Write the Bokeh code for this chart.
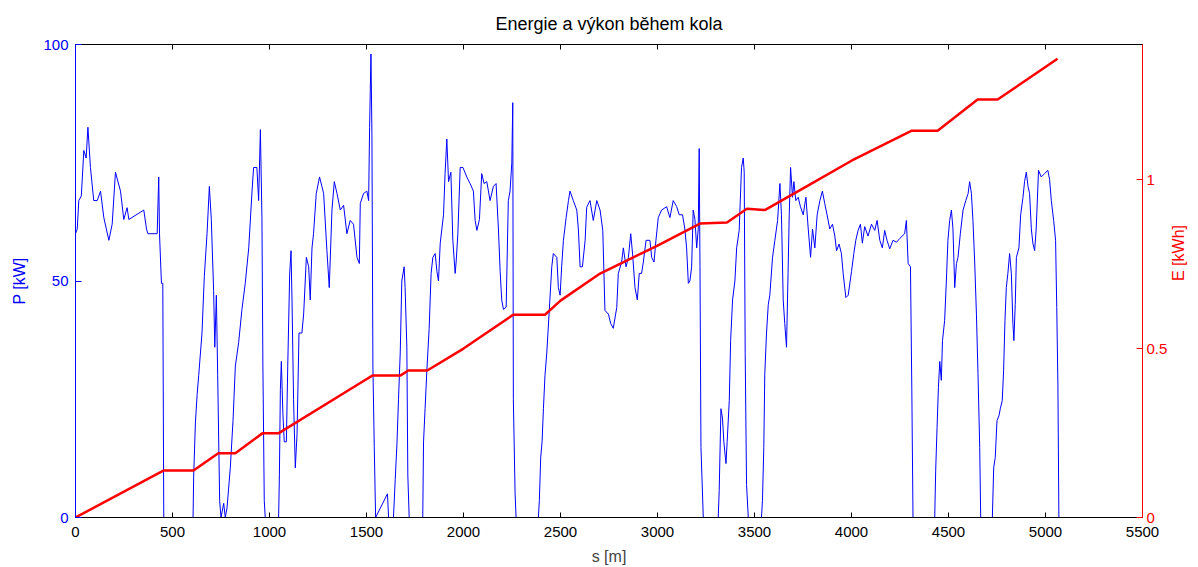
import math
from bokeh.plotting import figure
from bokeh.models import Range1d, LinearAxis, FixedTicker
from bokeh.embed import file_html
from bokeh.resources import INLINE

# ---------------- data ----------------
distance_m = [
    0, 9, 17, 30, 43, 55, 64, 77, 94, 112, 129, 146, 172, 189, 206, 232, 249, 266, 275, 352, 366, 373, 421, 429, 433, 443, 450, 455,
    606, 609, 618, 627, 635, 652, 664, 678, 690, 700, 712, 718, 726, 733, 743, 750, 764, 772, 781, 798, 812, 824, 841, 858, 875, 893,
    910, 918, 935, 944, 953, 961, 966, 973, 978, 1047, 1051, 1056, 1061, 1069, 1076, 1087, 1094, 1104, 1111, 1116, 1124, 1133, 1142,
    1152, 1167, 1176, 1190, 1202, 1210, 1219, 1227, 1241, 1258, 1270, 1279, 1296, 1308, 1322, 1334, 1348, 1365, 1382, 1399, 1416,
    1433, 1451, 1463, 1468,
    1485, 1502, 1511, 1516, 1523, 1528, 1533, 1540, 1547, 1608, 1614, 1639, 1648, 1657, 1665, 1674, 1682, 1694, 1699, 1708, 1713,
    1720, 1790, 1794, 1802, 1811, 1823, 1833, 1842, 1854, 1863, 1871, 1880, 1897, 1905, 1914, 1923, 1935, 1945, 1957, 1962, 1971,
    1983, 1997, 2017, 2034, 2051, 2060, 2069, 2082, 2094, 2106, 2120, 2137, 2154, 2168, 2180, 2189, 2197, 2206, 2220, 2231, 2240,
    2249, 2254, 2257, 2266, 2271, 2386, 2391, 2398, 2405, 2412, 2420, 2429, 2441, 2455, 2463, 2481, 2489, 2498, 2506, 2515, 2529,
    2541, 2549, 2566, 2584, 2592, 2601, 2613, 2627, 2635,
    2652, 2669, 2687, 2704, 2718, 2729, 2747, 2759, 2772, 2790, 2798, 2815, 2824, 2838, 2850, 2862, 2872, 2884, 2896, 2906, 2918,
    2927, 2941, 2961, 2970, 2982, 2992, 3004, 3021, 3047, 3064, 3081, 3099, 3112, 3129, 3141, 3150, 3159, 3167, 3176, 3184, 3193,
    3202, 3210, 3215, 3219, 3224, 3236, 3313, 3318, 3327, 3335, 3342, 3353, 3359, 3370, 3377, 3387, 3399, 3408, 3421, 3433, 3442,
    3447, 3452, 3459, 3468, 3536, 3541, 3548, 3553, 3562, 3571, 3579, 3593, 3605, 3619, 3631, 3639, 3648, 3656, 3665, 3673, 3679,
    3686, 3696, 3703, 3713, 3725, 3737, 3751, 3765, 3777, 3789, 3799, 3811, 3823, 3837, 3850, 3862, 3874, 3888, 3902, 3914, 3923,
    3936, 3948, 3957, 3971, 3983,
    4000, 4012, 4022, 4034, 4046, 4056, 4068, 4085, 4103, 4120, 4132, 4146, 4159, 4171, 4183, 4197, 4214, 4232, 4249, 4274, 4283,
    4292, 4304, 4311, 4317, 4429, 4434, 4441, 4448, 4455, 4463, 4469, 4480, 4489, 4497, 4506, 4515, 4523, 4532, 4541, 4549, 4561,
    4575, 4589, 4601, 4609, 4618, 4626, 4635, 4644, 4652, 4661, 4666, 4726, 4733, 4741, 4750, 4760, 4767, 4777, 4784, 4791, 4798,
    4806, 4815, 4824, 4832, 4837, 4844, 4850, 4863, 4872, 4884, 4892, 4901, 4910, 4918, 4927, 4935, 4944, 4952, 4964, 4978, 4995,
    5012, 5021, 5030, 5042, 5052, 5058, 5064, 5069,
]
power_kw = [
    60, 61, 67, 68, 77.6, 76, 82.5, 74, 67, 67, 69, 63.4, 58.6, 62, 73, 69, 63, 65.5, 63, 65, 61, 60, 60, 72, 60, 49.5, 49.5, 0,
    0, 8.5, 20, 26, 30, 39, 51, 60, 70, 63, 48, 36, 47, 30, 3.6, 0, 3, 0, 2, 10.5, 20.5, 32, 37, 44, 49.5, 57,
    69, 74, 74, 67, 82, 63.5, 32, 3.6, 0, 0, 9, 27, 33, 22, 16, 16, 32, 51.5, 56.4, 46, 25, 10.5, 17.7,
    39, 39, 43, 55, 53, 46, 57, 60, 68.5, 72, 70, 68.5, 56.4, 48.6, 65, 71, 68.5, 65, 66, 60, 62.8,
    62, 55, 53.7, 66.4,
    68.5, 69, 67, 82.5, 98, 81, 32, 15, 0, 5, 0, 0, 8, 15.6, 25, 35, 50, 53, 48.6, 36, 9,
    0, 0, 16, 23, 31, 40, 51.6, 55, 55.8, 52, 50, 58, 64, 72.7, 80, 71, 73, 58.6, 51.6, 54, 60,
    74, 74, 72, 70.6, 69, 62.8, 60.7, 63, 72.7, 70.6, 71, 67, 70, 70.6, 61, 52, 46, 44, 44.5, 67, 69,
    75, 87.7, 25, 5, 0, 0, 3.6, 12.7, 16, 23, 30, 34.6, 43, 53, 55.8, 55, 48.6, 47, 53, 58.6, 63.4,
    67, 69, 67, 65, 61, 53, 53, 58.6, 65.6,
    67, 62.8, 67, 65, 60.7, 43.8, 43, 41, 40, 44.4, 51.6, 54, 57, 53, 55, 60, 55.5, 48.6, 46, 51.6, 51.6,
    54, 58.6, 58.6, 55, 54, 58.6, 63.4, 65, 65.7, 63.4, 67, 65.7, 64, 64, 61, 57, 49.5, 50, 53, 65, 63,
    57, 61, 78, 53, 14.8, 0, 0, 5.7, 23, 21, 16, 11.4, 16, 24.7, 37.4, 46, 50, 57, 60.7, 74, 76,
    73, 34.6, 7, 0, 0, 3.6, 14.8, 30.4, 39, 45, 47, 55, 58.6, 62.8, 70.6, 64, 46, 41, 36, 51.6, 64,
    74, 67.7, 71, 67, 67.7, 65.7, 64, 67.7, 61, 55, 61, 57, 64, 67, 69, 66.4, 64, 61, 62, 59.5, 56.4,
    57.8, 55.8, 51.6, 46.5, 47,
    52, 55.8, 58.6, 60.7, 62, 58, 61.5, 59.5, 62, 60.7, 62.8, 58.6, 57, 60.7, 58.6, 56.8, 58.6, 58.2, 59, 60, 62.8,
    53.7, 53, 26.8, 0, 0, 10, 19, 27.5, 33, 29, 37.4, 41.6, 50, 58.6, 62.8, 65, 61, 48.6, 53.7, 55, 60,
    65, 67, 68.5, 71, 68.5, 62.8, 54, 43, 30.4, 14.8, 0, 0, 10.5, 12.7, 20.5, 21.5, 23, 24.7, 31, 41.6, 48.6,
    51.6, 55.8, 51.6, 41, 37.4, 45, 55, 57, 64, 67.7, 71, 73, 70, 68.5, 61, 58, 56.4, 61, 73.4, 72, 72.7,
    73.4, 71.5, 67, 62.8, 58.6, 44.4, 28, 0,
]

energy_distance_m = [0, 453, 608, 736, 824, 963, 1046, 1468, 1530, 1674, 1715, 1813, 2000, 2256, 2420, 2500, 2704,
                     3000, 3219, 3358, 3461, 3553, 3780, 4000, 4311, 4444, 4650, 4753, 5062]
energy_kwh = [0.0, 0.139, 0.139, 0.19, 0.19, 0.249, 0.249, 0.398, 0.42, 0.42, 0.435, 0.435, 0.50, 0.60, 0.60, 0.642, 0.722,
              0.805, 0.87, 0.873, 0.914, 0.91, 0.984, 1.056, 1.145, 1.145, 1.237, 1.237, 1.358]

x_ticks = [0, 500, 1000, 1500, 2000, 2500, 3000, 3500, 4000, 4500, 5000, 5500]
p_ticks = [0, 50, 100]
e_ticks = [0, 0.5, 1]

FONT = "Liberation Sans"
BLUE = "#0000ff"
RED = "#ff0000"

p = figure(width=1198, height=567, x_range=Range1d(0, 5500), y_range=Range1d(0, 100),
           output_backend="svg", toolbar_location=None,
           min_border_left=75, min_border_right=55, min_border_top=44, min_border_bottom=50)

p.title.text = "Energie a výkon během kola"
p.title.align = "center"
p.title.text_font = FONT
p.title.text_font_size = "18px"
p.title.text_font_style = "normal"
p.title.text_color = "black"
p.title.standoff = 22

p.xgrid.visible = False
p.ygrid.visible = False
p.outline_line_color = "black"
p.outline_line_width = 1

p.extra_y_ranges = {"E": Range1d(0, 1.4)}

# x axis
xa = p.xaxis[0]
xa.ticker = FixedTicker(ticks=x_ticks)
xa.axis_label = "s [m]"
xa.major_tick_in = 5
xa.major_tick_out = 0
xa.minor_tick_line_color = None
xa.axis_line_color = "black"
xa.major_tick_line_color = "black"
xa.major_label_text_font = FONT
xa.major_label_text_font_size = "15px"
xa.major_label_text_color = "black"
xa.axis_label_text_font = FONT
xa.axis_label_text_font_size = "16px"
xa.axis_label_text_font_style = "normal"
xa.axis_label_standoff = 8
xa.major_label_standoff = 9

# left axis
ya = p.yaxis[0]
ya.ticker = FixedTicker(ticks=p_ticks)
ya.axis_label = "P [kW]"
ya.major_tick_in = 6
ya.major_tick_out = 0
ya.minor_tick_line_color = None
ya.axis_line_color = BLUE
ya.major_tick_line_color = BLUE
ya.major_label_text_color = BLUE
ya.major_label_text_font = FONT
ya.major_label_text_font_size = "15px"
ya.axis_label_text_color = BLUE
ya.axis_label_text_font = FONT
ya.axis_label_text_font_size = "16px"
ya.axis_label_text_font_style = "normal"
ya.major_label_standoff = 7
ya.axis_label_standoff = 12

# right axis
ra = LinearAxis(y_range_name="E", ticker=FixedTicker(ticks=e_ticks), axis_label="E [kWh]")
ra.major_tick_in = 6
ra.major_tick_out = 0
ra.minor_tick_line_color = None
ra.axis_line_color = RED
ra.major_tick_line_color = RED
ra.major_label_text_color = RED
ra.major_label_text_font = FONT
ra.major_label_text_font_size = "15px"
ra.major_label_standoff = 4
ra.axis_label_text_color = RED
ra.axis_label_text_font = FONT
ra.axis_label_text_font_size = "16px"
ra.axis_label_text_font_style = "normal"
ra.axis_label_standoff = 8
ra.axis_label_orientation = math.pi / 2
p.add_layout(ra, "right")

# top axis (ticks only)
ta = LinearAxis(ticker=FixedTicker(ticks=x_ticks))
ta.major_tick_in = 5
ta.major_tick_out = 0
ta.minor_tick_line_color = None
ta.major_label_overrides = {t: "" for t in x_ticks}
ta.major_label_standoff = 0
ta.axis_line_color = "black"
p.add_layout(ta, "above")

p.line(distance_m, power_kw, line_color=BLUE, line_width=1)
p.line(energy_distance_m, energy_kwh, line_color=RED, line_width=2.5, y_range_name="E")

open("out.html", "w").write(file_html(p, INLINE))
